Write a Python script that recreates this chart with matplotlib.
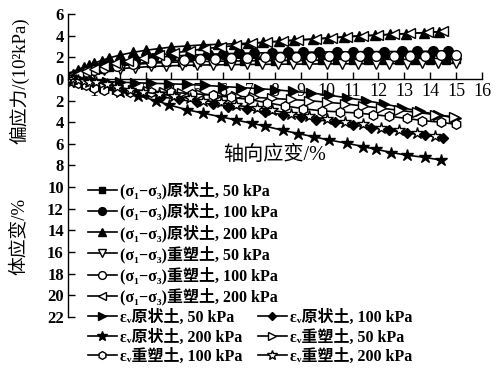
import matplotlib
matplotlib.use("Agg")
import matplotlib.pyplot as plt
from matplotlib.ticker import FixedLocator, FuncFormatter

# deviator stress (10^2 kPa) vs axial strain (%)
ax_u50 = [0, 0.2, 0.4, 0.6, 0.9, 1.2, 1.6, 2.0, 2.6, 3.2, 3.8, 4.4, 5.0, 5.6, 6.2,
          6.8, 7.4, 8.0, 8.6, 9.2, 9.8, 10.4, 11.0, 11.6, 12.2, 12.8, 13.4, 14.0, 14.6, 15.0]
q_u50 = [0, 0.25, 0.45, 0.62, 0.8, 0.95, 1.1, 1.22, 1.35, 1.45, 1.52, 1.57, 1.6, 1.63, 1.65,
         1.67, 1.69, 1.7, 1.71, 1.72, 1.73, 1.74, 1.75, 1.76, 1.77, 1.77, 1.78, 1.78, 1.79, 1.8]

ax_u100 = [0, 0.2, 0.5, 0.8, 1.1, 1.5, 2.0, 2.6, 3.3, 4.0, 4.7, 5.4, 6.0, 6.6, 7.2,
           7.9, 8.5, 9.1, 9.7, 10.4, 11.0, 11.6, 12.2, 12.9, 13.5, 14.1, 14.7]
q_u100 = [0, 0.3, 0.55, 0.8, 1.0, 1.25, 1.5, 1.75, 1.95, 2.1, 2.2, 2.28, 2.33, 2.37, 2.4,
          2.43, 2.45, 2.47, 2.49, 2.5, 2.51, 2.52, 2.53, 2.54, 2.55, 2.56, 2.56]

ax_u200 = [0, 0.2, 0.4, 0.6, 0.8, 1.0, 1.3, 1.6, 2.0, 2.5, 3.0, 3.5, 4.0, 4.6, 5.2,
           5.8, 6.4, 6.95, 7.55, 8.15, 8.75, 9.45, 10.05, 10.65, 11.25, 11.85, 12.45,
           13.05, 13.75, 14.35]
q_u200 = [0, 0.5, 0.85, 1.1, 1.3, 1.45, 1.7, 1.95, 2.2, 2.45, 2.65, 2.8, 2.95, 3.05, 3.15,
          3.2, 3.25, 3.3, 3.38, 3.48, 3.58, 3.68, 3.78, 3.88, 3.97, 4.03, 4.12,
          4.18, 4.28, 4.37]

ax_r50 = [0, 0.2, 0.4, 0.7, 1.0, 1.4, 2.0, 2.6, 3.2, 3.8, 4.4, 5.0, 5.6, 6.3, 6.9,
          7.5, 8.1, 8.7, 9.3, 10.0, 10.6, 11.2, 11.9, 12.4, 13.1, 13.7, 14.3, 15.0]
q_r50 = [0, 0.2, 0.35, 0.5, 0.65, 0.8, 0.95, 1.05, 1.15, 1.2, 1.25, 1.28, 1.3, 1.32, 1.34,
         1.35, 1.36, 1.37, 1.38, 1.39, 1.4, 1.4, 1.41, 1.42, 1.42, 1.43, 1.44, 1.45]

ax_r100 = [0, 0.2, 0.4, 0.7, 1.0, 1.4, 1.9, 2.5, 3.2, 3.8, 4.5, 5.1, 5.7, 6.3, 6.9,
           7.6, 8.2, 8.8, 9.4, 10.1, 10.7, 11.3, 11.9, 12.6, 13.2, 13.8, 14.4, 15.0]
q_r100 = [0, 0.2, 0.4, 0.6, 0.8, 1.0, 1.2, 1.4, 1.55, 1.65, 1.75, 1.82, 1.88, 1.93, 1.97,
          2.0, 2.03, 2.05, 2.07, 2.09, 2.1, 2.12, 2.13, 2.14, 2.15, 2.16, 2.17, 2.18]

ax_r200 = [0, 0.2, 0.4, 0.7, 1.0, 1.4, 1.8, 2.3, 2.9, 3.5, 4.1, 4.7, 5.3, 5.9, 6.5,
           7.1, 7.7, 8.3, 8.9, 9.6, 10.2, 10.8, 11.4, 12.0, 12.6, 13.2, 13.9, 14.5]
q_r200 = [0, 0.25, 0.45, 0.7, 0.95, 1.2, 1.45, 1.7, 1.95, 2.2, 2.4, 2.6, 2.8, 2.95, 3.1,
          3.3, 3.4, 3.5, 3.6, 3.7, 3.8, 3.9, 4.0, 4.05, 4.15, 4.2, 4.3, 4.4]

# volumetric strain (%) vs axial strain (%), contraction positive (drawn downward)
ex_u50 = [0, 0.3, 0.6, 1.0, 1.5, 2.0, 2.6, 3.2, 3.9, 4.6, 5.3, 6.0, 6.7, 7.4, 8.0,
          8.7, 9.4, 10.1, 10.8, 11.5, 12.2, 12.9, 13.6, 14.3, 15.0]
ev_u50 = [0, 0.1, 0.15, 0.2, 0.25, 0.3, 0.35, 0.4, 0.45, 0.5, 0.6, 0.7, 0.8, 0.9, 1.0,
          1.15, 1.3, 1.5, 1.75, 2.0, 2.3, 2.65, 3.0, 3.3, 3.65]

ex_u100 = [0, 0.3, 0.6, 1.0, 1.4, 1.9, 2.4, 3.0, 3.6, 4.3, 5.0, 5.6, 6.2, 6.9, 7.6,
           8.3, 9.0, 9.6, 10.3, 11.0, 11.7, 12.4, 13.1, 13.8, 14.5]
ev_u100 = [0, 0.1, 0.25, 0.45, 0.65, 0.9, 1.15, 1.4, 1.65, 1.9, 2.15, 2.35, 2.55, 2.8, 3.05,
           3.3, 3.55, 3.75, 4.0, 4.25, 4.5, 4.75, 5.0, 5.2, 5.45]

ex_u200 = [0, 0.3, 0.7, 1.0, 1.4, 2.0, 2.7, 3.4, 3.9, 4.6, 5.2, 5.9, 6.5, 7.1, 7.6,
           8.3, 8.9, 9.5, 10.1, 10.8, 11.4, 11.9, 12.5, 13.1, 13.8, 14.4]
ev_u200 = [0, 0.1, 0.25, 0.5, 0.8, 1.2, 1.55, 2.0, 2.4, 2.85, 3.15, 3.5, 3.8, 4.1, 4.35,
           4.75, 5.05, 5.35, 5.65, 5.95, 6.25, 6.5, 6.8, 7.05, 7.25, 7.5]

ex_r50 = [0, 0.2, 0.4, 0.7, 1.0, 1.4, 1.9, 2.5, 3.1, 3.7, 4.4, 5.1, 5.8, 6.5, 7.2,
          7.9, 8.6, 9.3, 10.0, 10.7, 11.4, 12.1, 12.8, 13.5, 14.2, 14.9]
ev_r50 = [0, 0.15, 0.3, 0.45, 0.6, 0.75, 0.9, 1.0, 1.1, 1.2, 1.3, 1.4, 1.5, 1.6, 1.7,
          1.8, 1.9, 2.0, 2.15, 2.3, 2.5, 2.7, 2.9, 3.1, 3.3, 3.5]

ex_r100 = [0, 0.2, 0.4, 0.7, 1.0, 1.4, 1.9, 2.4, 3.2, 4.0, 4.8, 5.6, 6.3, 7.0, 7.7,
           8.4, 9.1, 9.8, 10.5, 11.2, 11.8, 12.4, 13.1, 13.7, 14.4, 15.0]
ev_r100 = [0, 0.2, 0.4, 0.6, 0.8, 1.0, 1.1, 1.2, 1.2, 1.25, 1.35, 1.5, 1.7, 1.9, 2.2,
           2.5, 2.75, 2.95, 3.05, 3.15, 3.3, 3.45, 3.65, 3.85, 4.0, 4.2]

ex_r200 = [0, 0.2, 0.4, 0.6, 0.8, 1.1, 1.5, 1.9, 2.4, 2.9, 3.5, 4.1, 4.7, 5.2, 5.9,
           6.5, 7.3, 7.9, 8.6, 9.3, 10.0, 10.7, 11.4, 12.1, 12.8, 13.5, 14.2]
ev_r200 = [0, 0.05, 0.1, 0.2, 0.25, 0.3, 0.5, 0.7, 1.0, 1.2, 1.4, 1.55, 1.8, 2.0, 2.15,
           2.45, 2.65, 2.9, 3.2, 3.45, 3.7, 3.95, 4.2, 4.5, 4.75, 5.0, 5.25]

x_ticks = list(range(1, 17))
y_ticks = list(range(-22, 7, 2))

LATIN_CJK = ["Liberation Serif", "DejaVu Serif", "DejaVu Sans", "Noto Sans CJK SC"]
plt.rcParams["font.family"] = LATIN_CJK

fig = plt.figure(figsize=(4.97, 3.69), dpi=100)
ax = fig.add_axes([0.1368, 0.141, 0.833, 0.821])

line_kw = dict(color="black", lw=1.2, mew=1.0, ms=7)
open_kw = dict(mfc="white", mec="black")

stress = [
    (ax_u50, q_u50, "s", {"ms": 6}, "(σ₁−σ₃)原状土, 50 kPa"),
    (ax_u100, q_u100, "o", {}, "(σ₁−σ₃)原状土, 100 kPa"),
    (ax_u200, q_u200, "^", {}, "(σ₁−σ₃)原状土, 200 kPa"),
    (ax_r50, q_r50, "v", open_kw, "(σ₁−σ₃)重塑土, 50 kPa"),
    (ax_r100, q_r100, "o", open_kw, "(σ₁−σ₃)重塑土, 100 kPa"),
    (ax_r200, q_r200, "<", open_kw, "(σ₁−σ₃)重塑土, 200 kPa"),
]
strain = [
    (ex_u50, ev_u50, ">", {}, "εᵥ原状土, 50 kPa"),
    (ex_u100, ev_u100, "D", {"ms": 5.5}, "εᵥ原状土, 100 kPa"),
    (ex_u200, ev_u200, "*", {"ms": 9}, "εᵥ原状土, 200 kPa"),
    (ex_r50, ev_r50, ">", open_kw, "εᵥ重塑土, 50 kPa"),
    (ex_r100, ev_r100, "h", open_kw, "εᵥ重塑土, 100 kPa"),
    (ex_r200, ev_r200, "*", dict(open_kw, ms=9), "εᵥ重塑土, 200 kPa"),
]

h_stress = []
for xs, ys, m, extra, lab in stress:
    kw = dict(line_kw, **extra)
    h_stress.append(ax.plot(xs, ys, marker=m, label=lab, **kw)[0])

h_strain = []
for xs, ys, m, extra, lab in strain:
    kw = dict(line_kw, **extra)
    h_strain.append(ax.plot(xs, [-v for v in ys], marker=m, label=lab, **kw)[0])

ax.set_xlim(0, 16)
ax.set_ylim(-22, 6)
ax.spines["top"].set_visible(False)
ax.spines["right"].set_visible(False)
ax.spines["bottom"].set_position(("data", 0))
ax.spines["left"].set_linewidth(1.0)
ax.spines["bottom"].set_linewidth(1.0)

ax.xaxis.set_major_locator(FixedLocator(x_ticks))
ax.yaxis.set_major_locator(FixedLocator(y_ticks))
ax.yaxis.set_major_formatter(FuncFormatter(lambda v, p: f"{abs(int(v))}"))
ax.tick_params(axis="x", direction="in", length=5, width=1.0, pad=3, labelsize=13)
ax.tick_params(axis="y", direction="in", length=5, width=1.0, pad=3, labelsize=12)
for t in ax.get_yticklabels():
    t.set_fontweight("bold")

ax.text(8.0, -7.1, "轴向应变/%", ha="center", va="center", fontsize=14.5)
fig.text(0.038, 0.78, "偏应力/(10²kPa)", rotation=90, ha="center", va="center",
         fontsize=13.5)
fig.text(0.038, 0.36, "体应变/%", rotation=90, ha="center", va="center", fontsize=13.5)

leg_kw = dict(frameon=False, handlelength=1.8, handletextpad=0.2, borderpad=0,
              borderaxespad=0, labelspacing=0.22, markerscale=0.8,
              prop={"family": LATIN_CJK, "weight": "bold", "size": 11.5})
leg1 = fig.legend(handles=h_stress, loc="upper left", bbox_to_anchor=(0.177, 0.507),
                  **leg_kw)
leg2 = fig.legend(handles=[h_strain[i] for i in (0, 2, 4)], loc="upper left",
                  bbox_to_anchor=(0.177, 0.161), **leg_kw)
leg3 = fig.legend(handles=[h_strain[i] for i in (1, 3, 5)], loc="upper left",
                  bbox_to_anchor=(0.519, 0.161), **leg_kw)

fig.savefig("out.png", dpi=100)
